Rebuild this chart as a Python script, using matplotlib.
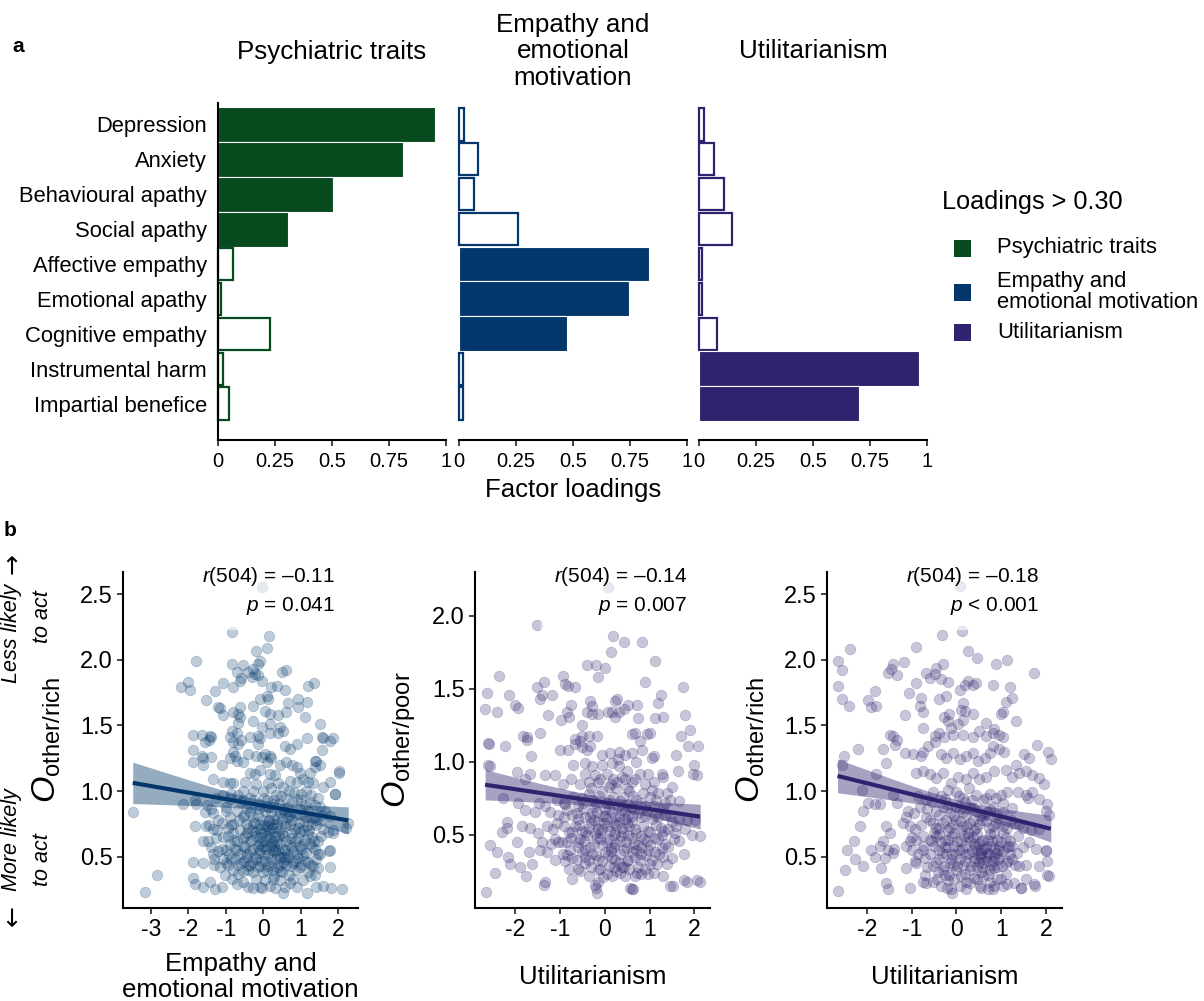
import numpy as np
import matplotlib
matplotlib.use('Agg')
import matplotlib.pyplot as plt
from matplotlib.patches import Rectangle

# ---------------- data: panel a (factor loadings) ----------------
measures = ['Depression', 'Anxiety', 'Behavioural apathy', 'Social apathy',
            'Affective empathy', 'Emotional apathy', 'Cognitive empathy',
            'Instrumental harm', 'Impartial benefice']
factor_titles = ['Psychiatric traits', 'Empathy and\nemotional\nmotivation', 'Utilitarianism']
legend_title = 'Loadings > 0.30'
legend_labels = ['Psychiatric traits', 'Empathy and\nemotional motivation', 'Utilitarianism']
load_psych = [0.95, 0.81, 0.505, 0.305, 0.066, 0.012, 0.228, 0.02, 0.05]
load_empathy = [0.024, 0.083, 0.067, 0.26, 0.833, 0.746, 0.475, 0.016, 0.016]
load_util = [0.022, 0.067, 0.111, 0.146, 0.012, 0.012, 0.078, 0.963, 0.70]
loading_threshold = 0.30
loading_ticks = [0, 0.25, 0.5, 0.75, 1]
loading_ticklabels = ['0', '0.25', '0.5', '0.75', '1']

# ---------------- data: panel b (scatter points, x = factor score, y = O) ----------------
pts_empathy_rich = [
    (-0.04,2.55),(-0.82,2.21),(0.16,2.18),(-0.2,2.07),(0.11,2.09),(-1.78,1.99),(-0.84,1.97),(-0.53,1.96),(-0.09,1.99),(-0.13,1.97),
    (-0.27,1.93),(-0.22,1.89),(-0.71,1.91),(-0.58,1.86),(-0.4,1.91),(-0.31,1.87),(-0.13,1.88),(-0.02,1.84),(0.49,1.91),(0.62,1.92),
    (-2.0,1.83),(-2.18,1.79),(-1.96,1.77),(-1.07,1.82),(-0.8,1.79),(-0.62,1.84),(0.22,1.79),(0.36,1.80),(0.58,1.77),(1.2,1.80),
    (1.36,1.82),(-1.29,1.76),(0.09,1.72),(0.13,1.70),(-0.09,1.70),(-1.53,1.69),(-1.2,1.64),(-1.16,1.63),(-0.62,1.64),(-0.67,1.59),
    (-0.62,1.56),(-1.07,1.58),(-0.8,1.60),(-0.27,1.65),(0.04,1.61),(0.18,1.59),(0.4,1.58),(0.44,1.49),(0.67,1.67),(0.62,1.60),
    (0.93,1.70),(0.92,1.64),(1.18,1.68),(1.11,1.56),(1.51,1.51),(-0.67,1.52),(-0.27,1.53),(-0.04,1.49),(0.18,1.51),(0.53,1.46),
    (-1.87,1.43),(-1.64,1.43),(-1.42,1.42),(-1.38,1.41),(-0.84,1.46),(-0.89,1.41),(-0.71,1.44),(-0.36,1.41),(-0.13,1.42),(-0.09,1.40),
    (0.18,1.44),(0.4,1.44),(1.16,1.40),(1.56,1.41),(1.87,1.40),
    (-1.56,1.37),(-1.44,1.39),(-0.8,1.37),(-0.67,1.36),(-0.58,1.39),(-0.13,1.36),(-1.87,1.31),(-1.64,1.27),(-1.6,1.25),(-1.4,1.26),
    (-1.87,1.22),(-1.6,1.20),(-1.11,1.20),(-0.8,1.30),(-0.76,1.27),(-0.71,1.23),(-0.89,1.25),(-0.53,1.22),(-0.4,1.28),(-0.18,1.27),
    (-0.04,1.26),(0.04,1.28),(0.18,1.27),(0.09,1.22),(0.22,1.25),(0.58,1.34),(0.71,1.32),(0.89,1.36),(0.62,1.22),(0.76,1.20),
    (0.89,1.18),(0.44,1.20),(1.38,1.23),(1.51,1.20),(2.03,1.14),(-0.36,1.14),(-0.22,1.13),(-0.09,1.16),(0.18,1.13),(0.31,1.12),
    (0.98,1.14),(1.24,1.14),(-1.33,1.09),(-1.07,1.07),(-0.89,1.06),(-0.8,1.06),(-0.49,1.07),(-0.27,1.00),(0.0,1.00),(0.13,1.06),
    (0.4,1.06),(0.53,1.03),(0.71,1.08),(0.89,1.07),(1.07,1.09),(1.2,1.07),(1.33,1.06),(1.6,1.03),(1.78,1.07),(1.91,0.98),
    (-2.13,0.90),(-1.82,0.93),(-1.78,0.90),(-1.51,0.89),(-1.56,0.84),(-1.33,0.83),(-1.07,0.97),(-0.89,0.94),(-0.67,0.97),(-0.53,0.93),
    (-3.48,0.84),(2.27,0.76),(-1.82,0.73),(-1.53,0.73),(-1.33,0.71),(-1.2,0.78),(-1.24,0.70),(-0.98,0.85),(-0.89,0.80),(-0.8,0.75),
    (-0.44,0.87),(-0.36,0.84),(-0.27,0.80),(-0.22,0.76),(-0.09,0.74),(0.0,0.78),(0.09,0.73),(0.18,0.70),(0.27,0.75),(0.36,0.79),
    (0.44,0.83),(0.53,0.86),(0.67,0.88),(0.76,0.92),(0.89,0.94),(1.02,0.93),(1.11,0.89),(1.24,0.92),(1.38,0.89),(1.51,0.88),
    (1.64,0.85),(1.78,0.81),
    (-0.62,0.70),(-0.49,0.66),(-0.36,0.62),(-0.22,0.69),(-0.09,0.65),(0.04,0.62),(0.18,0.64),(0.31,0.66),(0.44,0.70),(0.58,0.73),
    (0.71,0.74),(0.84,0.71),(0.98,0.69),(1.16,0.73),(1.29,0.75),(1.42,0.74),(1.6,0.71),(1.73,0.69),(1.87,0.70),
    (-1.07,0.65),(-0.89,0.60),(-0.76,0.56),(-0.62,0.52),(-0.49,0.57),(-0.36,0.54),(-0.22,0.50),(-0.09,0.55),(0.04,0.51),(0.18,0.57),
    (0.31,0.54),(0.44,0.50),(0.58,0.55),(0.71,0.59),(0.84,0.62),(0.98,0.58),(1.11,0.63),(1.24,0.60),(1.38,0.56),(1.51,0.52),(1.78,0.55),
    (-1.47,0.62),(-1.38,0.57),(-1.2,0.54),(-1.07,0.48),(-0.93,0.44),(-0.8,0.40),(-0.67,0.37),(-0.53,0.39),(-0.4,0.43),(-0.27,0.38),
    (-0.13,0.42),(0.0,0.38),(0.13,0.43),(0.27,0.40),(0.4,0.42),(0.53,0.46),(0.67,0.50),(0.8,0.45),(0.93,0.49),(1.07,0.51),
    (1.2,0.46),(1.33,0.43),(1.47,0.41),(1.78,0.42),
    (-1.87,0.46),(-1.6,0.45),(-2.84,0.36),(-3.16,0.23),(-1.87,0.34),(-1.82,0.29),(-1.6,0.27),(-1.42,0.31),(-1.29,0.25),(-1.11,0.27),
    (-1.02,0.36),(-0.84,0.33),(-0.71,0.29),(-0.53,0.31),(-0.4,0.27),(-0.27,0.26),(-0.09,0.27),(-0.04,0.26),(0.18,0.28),(0.31,0.26),
    (0.44,0.32),(0.58,0.27),(0.71,0.30),(0.89,0.27),(1.07,0.32),(1.24,0.35),(1.38,0.36),(1.42,0.27),(1.6,0.28),(1.82,0.26),
    (2.09,0.25),(1.16,0.22),(0.53,0.22),
    (1.76,0.54),(2.01,1.15),(1.92,0.98),(1.78,1.38),(1.6,1.40),(1.56,1.31),(1.38,1.18),(1.42,1.23),(1.85,0.68),(2.2,0.72),
    (-0.55,0.80),(-0.45,0.75),(-0.3,0.70),(-0.15,0.82),(-0.05,0.68),(0.05,0.85),(0.15,0.78),(0.25,0.62),(0.35,0.72),(0.45,0.60),
    (0.55,0.66),(0.65,0.80),(0.75,0.64),(0.85,0.82),(0.95,0.76),(1.05,0.70),(1.15,0.80),(-0.6,0.45),(-0.45,0.50),(-0.3,0.46),
    (-0.15,0.58),(-0.05,0.47),(0.08,0.56),(0.2,0.48),(0.3,0.35),(0.4,0.55),(0.5,0.38),(0.6,0.44),(0.7,0.36),(0.8,0.54),
    (0.9,0.40),(1.0,0.44),(-0.7,0.62),(-0.8,0.68),(-0.95,0.72),(-1.0,0.55),(-1.15,0.42),(-0.75,0.48),(0.1,0.93),(0.25,0.90),
    (-0.1,0.90),(-0.35,0.95),(0.35,0.97),(0.6,0.95),(0.2,1.02),(-0.2,1.05),(0.05,0.32),(-0.2,0.33),(0.25,0.33),(0.8,0.33),
    (1.2,0.38),(1.3,0.65),(1.45,0.62),(1.35,0.80),(-1.3,0.48),(-1.6,0.62),(-0.55,1.0),(0.7,1.0),(1.0,0.98),(1.15,1.0),
    (-0.6,0.92),(-0.25,0.93),(0.02,0.95),(0.3,0.93),(0.48,0.96),(0.82,0.99),(1.28,0.97),(1.45,0.95),(-0.85,0.98),(-1.25,0.95),
    (-0.7,0.85),(-0.5,0.82),(-0.32,0.88),(-0.12,0.86),(0.12,0.88),(0.22,0.84),(0.42,0.90),(0.58,0.84),(0.72,0.82),(0.98,0.86),
    (1.2,0.85),(1.55,0.82),(-1.0,0.88),(-1.4,0.86),
    (-0.85,0.74),(-0.65,0.78),(-0.4,0.72),(-0.28,0.76),(-0.12,0.71),(0.02,0.74),(0.13,0.77),(0.24,0.72),(0.38,0.75),(0.5,0.79),
    (0.62,0.76),(0.78,0.78),(0.92,0.72),(1.08,0.77),(1.22,0.70),(1.4,0.78),(-1.1,0.76),(-1.45,0.74),(0.3,0.79),(0.06,0.70),
    (-0.95,0.66),(-0.78,0.63),(-0.55,0.64),(-0.42,0.68),(-0.3,0.63),(-0.18,0.66),(-0.02,0.62),(0.1,0.66),(0.22,0.60),(0.35,0.63),
    (0.5,0.68),(0.62,0.62),(0.78,0.68),(0.92,0.64),(1.05,0.60),(1.2,0.67),(1.35,0.62),(1.55,0.66),(-1.25,0.64),(0.15,0.69),
    (-0.08,0.60),(0.42,0.66),
    (-1.1,0.56),(-0.9,0.52),(-0.7,0.55),(-0.55,0.58),(-0.42,0.52),(-0.28,0.56),(-0.12,0.53),(0.0,0.58),(0.12,0.52),(0.25,0.55),
    (0.38,0.51),(0.5,0.56),(0.64,0.52),(0.76,0.57),(0.9,0.52),(1.02,0.56),(1.15,0.53),(1.3,0.57),(1.45,0.52),(-1.35,0.52),
    (0.3,0.58),(0.56,0.50),
    (-1.0,0.45),(-0.85,0.48),(-0.68,0.44),(-0.5,0.47),(-0.35,0.44),(-0.2,0.48),(-0.08,0.43),(0.06,0.47),(0.2,0.44),(0.34,0.48),
    (0.46,0.44),(0.6,0.48),(0.74,0.43),(0.86,0.47),(0.98,0.42),(1.12,0.47),(1.28,0.44),(1.4,0.48),(-1.3,0.44),(0.1,0.40),
    (0.45,0.39),(-0.4,0.40),
]

pts_util_poor = [
    (0.08,2.20),(-1.52,1.94),(0.19,1.86),(0.42,1.82),(0.83,1.82),(0.14,1.75),(1.12,1.69),(-0.4,1.66),(-0.2,1.66),(0.01,1.64),
    (-0.16,1.58),(-2.37,1.59),(-0.92,1.59),(-0.88,1.53),(-0.81,1.52),(-0.66,1.51),(-1.35,1.55),(-1.52,1.51),(0.89,1.55),(1.74,1.51),
    (-2.63,1.47),(-2.13,1.46),(-2.67,1.36),(-2.41,1.34),(-1.41,1.46),(-1.44,1.43),(-1.18,1.46),(-2.0,1.39),(-1.93,1.37),(-1.26,1.32),
    (-0.75,1.39),(-0.85,1.34),(-0.97,1.29),(-0.8,1.31),(-0.33,1.42),(-0.29,1.38),(-0.4,1.34),(-0.28,1.33),(-0.14,1.33),(0.27,1.43),
    (0.23,1.42),(0.08,1.34),(0.16,1.34),(0.23,1.31),(0.31,1.34),(0.53,1.39),(0.71,1.39),(0.42,1.36),(0.75,1.30),(1.2,1.40),
    (1.26,1.46),(1.12,1.30),(1.31,1.31),(-0.5,1.25),(-1.82,1.18),(-1.73,1.17),(-1.44,1.20),(-0.66,1.16),(-0.51,1.18),(-0.36,1.18),
    (-0.18,1.18),(0.6,1.19),(0.68,1.20),(0.94,1.19),(1.01,1.20),(-2.6,1.13),
    (-2.58,1.12),(-2.22,1.11),(-1.74,1.15),(-1.0,1.08),(-0.83,1.08),(-0.66,1.12),(-0.55,1.14),(-0.51,1.10),(-0.4,1.08),(-0.33,1.11),
    (0.12,1.06),(0.31,1.07),(0.45,1.05),(0.6,1.06),(0.79,1.14),(0.83,1.08),(1.05,1.03),(1.09,1.04),(1.87,1.11),(2.09,1.11),
    (-1.64,1.04),(-2.6,0.98),(-2.55,0.97),(-1.96,0.93),(-1.79,0.88),(-1.67,0.92),(-1.33,0.91),(-1.12,0.91),(-0.92,0.85),(-0.44,0.99),
    (-0.29,0.97),(-0.44,0.92),(-0.36,0.86),(-0.22,0.91),(-0.07,0.98),(0.04,0.92),(0.16,0.99),(0.19,0.88),(0.31,0.97),(0.38,0.90),
    (0.49,0.94),(0.6,0.86),(0.79,0.92),(0.97,0.92),(1.27,0.92),(1.31,0.90),(1.63,0.94),(1.98,0.92),(2.05,0.91),(1.5,0.83),
    (1.06,0.81),(1.2,0.79),(1.46,0.74),(1.65,0.73),(1.38,0.79),(-2.26,0.75),(-1.93,0.72),(-1.79,0.67),(-1.55,0.66),(-1.47,0.72),
    (-1.33,0.70),(-1.22,0.66),(-1.07,0.74),(-0.88,0.71),(-2.19,0.59),(-2.17,0.55),(-1.85,0.56),(-1.67,0.55),(-1.48,0.51),(-1.29,0.56),
    (-1.07,0.58),
    (-0.74,0.64),(-0.59,0.61),(-0.44,0.62),(-0.29,0.65),(-0.14,0.59),(0.01,0.63),(0.16,0.66),(0.31,0.63),(0.45,0.66),(0.6,0.63),
    (0.75,0.65),(0.9,0.63),(1.05,0.61),(1.2,0.62),(1.35,0.64),(1.5,0.59),(1.65,0.60),(1.83,0.60),(2.02,0.60),(2.13,0.49),
    (-0.66,0.56),(-0.51,0.53),(-0.36,0.55),(-0.22,0.51),(-0.07,0.54),(0.08,0.56),(0.23,0.51),(0.38,0.55),(0.52,0.50),(0.67,0.54),
    (0.82,0.49),(0.97,0.53),(1.12,0.48),(1.27,0.50),(1.42,0.54),(1.57,0.51),(1.79,0.54),(1.94,0.50),
    (-2.56,0.43),(-2.15,0.35),(-2.11,0.30),(-1.7,0.38),(-1.63,0.30),(-1.44,0.40),(-1.41,0.45),(-1.29,0.38),(-1.11,0.47),(-1.04,0.45),
    (-0.93,0.37),(-0.78,0.40),(-0.74,0.34),
    (-0.59,0.45),(-0.44,0.40),(-0.29,0.37),(-0.14,0.33),(0.01,0.38),(0.16,0.34),(0.31,0.31),(0.42,0.28),(0.53,0.33),(0.67,0.35),
    (0.82,0.37),(0.97,0.40),(1.12,0.38),(1.27,0.41),(1.42,0.42),(1.65,0.46),(1.76,0.37),
    (-1.33,0.18),(-0.89,0.32),(-0.74,0.20),(-0.59,0.27),(-0.44,0.31),(-0.22,0.16),(-0.14,0.18),(-0.03,0.21),(0.16,0.22),(0.38,0.28),
    (0.57,0.14),(0.68,0.22),(0.82,0.23),(0.97,0.23),(1.16,0.30),(1.38,0.30),(1.46,0.15),(1.76,0.19),(2.05,0.19),(-2.66,0.11),
    (-0.18,0.10),(0.6,0.13),(-1.35,0.155),(-0.2,0.14),(0.64,0.13),(1.52,0.15),(1.83,0.18),(2.13,0.18),
    (-0.5,0.75),(-0.35,0.78),(-0.2,0.72),(-0.05,0.80),(0.1,0.74),(0.25,0.82),(0.4,0.76),(0.55,0.80),(0.7,0.74),(0.85,0.79),
    (-0.55,0.47),(-0.4,0.50),(-0.25,0.44),(-0.1,0.47),(0.05,0.45),(0.2,0.42),(0.35,0.46),(0.5,0.41),(0.65,0.44),(0.8,0.42),
    (0.95,0.46),(-0.3,0.28),(-0.1,0.27),(0.1,0.29),(0.25,0.25),(0.45,0.22),(0.75,0.28),(-0.6,0.70),(0.0,0.68),(0.3,0.70),
    (0.6,0.69),(-0.45,0.35),(0.2,0.58),(0.5,0.58),(-0.25,0.60),(0.9,0.70),(1.1,0.70),(-0.8,0.52),(-0.9,0.62),(1.25,0.55),
    (0.15,0.85),(-0.15,0.86),(0.45,0.88),(0.7,1.0),(0.3,1.02),(-0.05,1.05),(-0.7,0.98),(-0.85,0.45),(1.3,0.35),(1.0,0.30),
    (-0.55,0.85),(-0.3,0.82),(-0.1,0.88),(0.1,0.83),(0.28,0.86),(0.5,0.82),(0.68,0.88),(0.9,0.85),(1.1,0.86),(-0.75,0.88),
    (-0.7,0.76),(-0.48,0.72),(-0.28,0.74),(-0.12,0.77),(0.04,0.72),(0.18,0.76),(0.34,0.73),(0.5,0.71),(0.64,0.77),(0.8,0.72),
    (1.0,0.76),(1.15,0.74),(-0.9,0.72),(1.35,0.72),
    (-0.85,0.67),(-0.62,0.65),(-0.48,0.68),(-0.32,0.62),(-0.18,0.66),(-0.04,0.63),(0.1,0.68),(0.24,0.62),(0.38,0.67),(0.52,0.63),
    (0.66,0.68),(0.8,0.62),(0.95,0.67),(1.12,0.64),(1.3,0.68),(1.45,0.63),(-1.05,0.64),(0.06,0.61),(0.45,0.61),(-0.25,0.69),
    (-0.9,0.56),(-0.72,0.52),(-0.58,0.57),(-0.44,0.52),(-0.3,0.58),(-0.16,0.54),(-0.02,0.58),(0.12,0.53),(0.26,0.57),(0.4,0.52),
    (0.55,0.56),(0.7,0.51),(0.85,0.56),(1.0,0.52),(1.15,0.57),(1.32,0.53),(1.6,0.56),(-1.15,0.54),(0.2,0.50),(0.62,0.59),
    (-0.1,0.51),(0.33,0.59),
    (-0.95,0.45),(-0.75,0.48),(-0.6,0.42),(-0.46,0.46),(-0.32,0.42),(-0.18,0.48),(-0.05,0.43),(0.09,0.47),(0.22,0.44),(0.36,0.49),
    (0.48,0.45),(0.6,0.48),(0.74,0.43),(0.88,0.47),(1.02,0.43),(1.18,0.47),(1.35,0.44),(1.55,0.47),(-1.2,0.44),(0.14,0.41),
    (0.42,0.40),(0.7,0.40),
    (-0.85,0.36),(-0.62,0.33),(-0.5,0.38),(-0.36,0.33),(-0.2,0.36),(-0.06,0.32),(0.08,0.36),(0.22,0.33),(0.34,0.37),(0.5,0.32),
    (0.62,0.38),(0.78,0.33),(0.92,0.36),(1.06,0.33),(1.22,0.37),(1.5,0.34),(-1.1,0.33),(0.15,0.39),
    (-0.55,0.25),(-0.35,0.22),(-0.15,0.26),(0.05,0.23),(0.2,0.28),(0.35,0.24),(0.55,0.27),(0.72,0.24),(0.9,0.27),(1.1,0.24),
    (-0.8,0.27),(1.3,0.22),
    (-2.4,0.38),(-1.9,0.28),(-2.3,0.52),(-1.95,0.45),(-1.75,0.22),(-2.45,0.24),
    (1.6,1.05),(1.9,1.22),(2.0,0.98),(1.7,1.18),(1.8,1.32),
]

pts_util_rich = [
    (0.08,2.56),(0.13,2.22),(-0.33,2.19),(-2.37,2.08),(-0.91,2.10),(0.25,2.07),(0.46,2.01),(-2.64,1.99),(-2.57,1.92),(0.88,1.97),
    (1.13,2.0),(1.74,1.90),(-1.42,1.97),(-1.18,1.98),(-1.46,1.93),(-1.53,1.90),(-1.34,1.88),(-0.3,1.97),(-0.45,1.94),(-0.68,1.90),
    (-0.49,1.89),(-0.6,1.86),(-0.34,1.85),(-0.9,1.82),(-2.66,1.80),(-0.19,1.83),(0.07,1.77),(0.18,1.81),(0.25,1.84),(0.36,1.81),
    (0.44,1.82),(0.81,1.81),(1.2,1.79),(-1.83,1.76),(-1.06,1.75),(-2.57,1.70),(-2.4,1.65),(-1.97,1.69),(-1.9,1.64),(-1.79,1.65),
    (-0.79,1.71),(-0.82,1.65),(-0.75,1.60),(-0.38,1.70),(-0.23,1.72),(0.14,1.67),(0.1,1.62),(0.18,1.61),(0.36,1.59),(1.11,1.68),
    (1.25,1.71),(0.99,1.59),(1.05,1.60),(-1.16,1.58),(-0.16,1.59),(-0.19,1.53),(-0.27,1.56),(0.03,1.51),(0.14,1.54),(-0.75,1.48),
    (-0.38,1.44),(0.66,1.52),(0.85,1.47),(0.81,1.44),(1.33,1.53),(-0.12,1.48),(-0.27,1.41),(-0.08,1.43),(0.14,1.43),(0.51,1.46),
    (-1.49,1.43),(-1.42,1.42),(-0.49,1.42),(0.36,1.41),(0.66,1.42),(0.96,1.43),(1.03,1.41),
    (-2.2,1.32),(-1.64,1.32),(-1.38,1.35),(-1.34,1.39),(-1.16,1.29),(-0.97,1.28),(-0.79,1.27),(-0.75,1.30),(-0.64,1.34),(-0.49,1.37),
    (-0.34,1.28),(-0.23,1.25),(-0.08,1.29),(0.07,1.24),(0.22,1.27),(0.36,1.29),(0.48,1.23),(0.63,1.25),(0.74,1.29),(0.81,1.34),
    (0.96,1.32),(1.07,1.30),(-2.52,1.27),(-2.57,1.20),(-1.57,1.21),(-1.79,1.13),(1.33,1.20),(1.63,1.25),(2.11,1.24),(1.85,1.10),
    (1.4,1.14),(1.55,1.15),(-0.9,1.14),(-0.75,1.15),(-0.6,1.13),(-0.45,1.10),(-0.3,1.14),(-0.12,1.06),(0.03,1.11),(0.22,1.09),
    (0.36,1.14),(0.51,1.09),(0.66,1.11),(0.85,1.15),(1.11,1.16),(1.25,1.11),
    (-2.12,1.01),(-1.97,0.91),(-1.83,0.90),(-1.71,0.90),(-2.09,0.85),(-1.42,0.97),(-1.34,0.91),(-1.08,0.85),(-0.82,0.88),
    (-0.68,0.94),(-0.53,0.99),(-0.34,0.96),(-0.19,1.01),(-0.01,0.99),(0.14,0.95),(0.29,1.02),(0.44,0.97),(0.59,0.93),(0.74,0.98),
    (0.88,0.95),(1.03,0.91),(1.14,0.99),(1.37,0.99),(1.55,0.97),(1.7,0.99),(1.85,0.94),(2.03,0.90),(2.0,0.85),
    (-2.16,0.73),(-1.57,0.73),(-1.49,0.68),(-1.05,0.73),(-0.93,0.71),(-1.12,0.80),(-0.68,0.80),(-0.53,0.76),(-0.38,0.72),(-0.23,0.78),
    (-0.08,0.75),(0.07,0.77),(0.22,0.73),(0.36,0.78),(0.51,0.75),(0.66,0.77),(0.81,0.73),(0.96,0.76),(1.14,0.72),(1.29,0.76),
    (1.48,0.72),(1.66,0.70),(1.85,0.71),(2.07,0.82),
    (-1.72,0.58),(-1.53,0.55),(-1.42,0.53),(-1.12,0.58),(-0.9,0.63),(-0.75,0.58),(-0.6,0.63),(-0.45,0.66),(-0.34,0.61),(-0.19,0.63),
    (-0.05,0.58),(0.1,0.62),(0.25,0.65),(0.4,0.60),(0.55,0.55),(0.7,0.63),(0.85,0.56),(1.0,0.61),(1.14,0.57),(1.25,0.58),
    (1.48,0.57),(1.63,0.61),(1.78,0.56),(2.0,0.55),
    (-2.27,0.48),(-2.09,0.43),(-1.83,0.50),(-1.68,0.41),(-1.6,0.49),(-1.4,0.56),(-1.12,0.41),(-0.93,0.47),(-0.71,0.49),(-0.53,0.43),
    (-0.38,0.48),(-0.23,0.52),(-0.08,0.44),(0.07,0.48),(0.22,0.52),(0.4,0.47),(0.55,0.50),(0.7,0.53),(0.81,0.47),(0.96,0.50),
    (1.11,0.45),(1.25,0.48),(1.4,0.43),(1.55,0.44),(1.85,0.43),(2.03,0.47),
    (-2.64,0.24),(-1.57,0.30),(-1.53,0.25),(-1.05,0.26),(-0.75,0.31),(-0.68,0.30),(-0.53,0.31),(-0.34,0.28),(-0.16,0.36),(-0.12,0.25),
    (0.07,0.28),(0.22,0.31),(0.4,0.34),(0.55,0.26),(0.7,0.25),(0.85,0.28),(1.0,0.33),(1.14,0.29),(1.29,0.30),(1.44,0.26),
    (1.55,0.33),(1.74,0.29),(2.03,0.36),
    (-0.44,0.33),(-0.22,0.26),(-0.09,0.22),(0.22,0.25),(0.52,0.28),(0.82,0.25),(1.03,0.28),(1.45,0.26),(1.76,0.28),(2.07,0.35),(2.01,0.54),
    (-0.45,0.85),(-0.3,0.88),(-0.15,0.83),(0.0,0.88),(0.15,0.84),(0.3,0.88),(0.45,0.85),(0.6,0.82),(0.75,0.86),(0.9,0.82),
    (-0.4,0.55),(-0.25,0.57),(-0.1,0.52),(0.05,0.55),(0.2,0.58),(0.35,0.54),(0.5,0.60),(0.65,0.57),(0.8,0.62),(0.95,0.55),
    (-0.3,0.40),(-0.15,0.45),(0.0,0.40),(0.15,0.44),(0.3,0.40),(0.45,0.42),(0.6,0.45),(0.75,0.40),(0.9,0.42),(0.6,0.35),
    (0.45,0.55),(0.65,0.50),(0.55,0.62),(-0.05,0.68),(0.1,0.70),(0.25,0.68),(0.4,0.70),(-0.2,0.70),(-0.5,0.68),(0.85,0.68),
    (1.1,0.65),(0.2,0.92),(-0.6,0.52),(-0.85,0.52),(-1.0,0.65),(1.2,0.52),(0.3,0.30),(-0.2,0.32),(0.1,0.35),(0.75,0.31),
    (-0.55,0.92),(-0.25,0.94),(0.05,0.96),(0.35,0.93),(0.65,0.95),(-0.85,0.96),(1.0,0.97),
    (-0.65,0.86),(-0.38,0.82),(-0.22,0.87),(-0.05,0.81),(0.08,0.86),(0.22,0.82),(0.38,0.87),(0.52,0.81),(0.68,0.84),(0.82,0.88),
    (1.05,0.84),(1.25,0.87),(-0.95,0.83),
    (-0.8,0.74),(-0.6,0.78),(-0.45,0.72),(-0.3,0.76),(-0.15,0.72),(0.0,0.78),(0.15,0.73),(0.3,0.76),(0.44,0.72),(0.58,0.78),
    (0.72,0.72),(0.88,0.76),(1.05,0.73),(1.22,0.78),(1.4,0.75),(-1.2,0.76),
    (-0.75,0.66),(-0.55,0.62),(-0.4,0.67),(-0.25,0.63),(-0.1,0.66),(0.02,0.62),(0.16,0.66),(0.3,0.62),(0.45,0.67),(0.6,0.63),
    (0.75,0.67),(0.9,0.63),(1.05,0.68),(1.2,0.62),(1.38,0.66),(-1.05,0.62),(0.38,0.65),
    (-0.75,0.55),(-0.5,0.58),(-0.32,0.53),(-0.18,0.57),(-0.02,0.52),(0.12,0.56),(0.28,0.52),(0.42,0.58),(0.55,0.53),(0.62,0.56),
    (0.72,0.52),(0.78,0.58),(0.88,0.53),(0.95,0.58),(1.05,0.54),(1.18,0.58),(1.35,0.53),(-1.0,0.55),(0.5,0.51),(0.85,0.50),
    (-0.9,0.45),(-0.65,0.42),(-0.45,0.46),(-0.28,0.43),(-0.12,0.48),(0.02,0.43),(0.18,0.47),(0.32,0.43),(0.5,0.46),(0.58,0.42),
    (0.68,0.47),(0.78,0.44),(0.92,0.48),(1.02,0.43),(1.15,0.47),(1.3,0.44),(0.42,0.49),(0.85,0.41),
    (-0.7,0.36),(-0.42,0.38),(-0.05,0.33),(0.2,0.37),(0.45,0.33),(0.7,0.36),(0.9,0.33),(1.1,0.37),(-0.25,0.36),(0.55,0.38),
    (-2.45,0.55),(-2.3,0.62),(-1.9,0.55),(-1.65,0.62),(-2.5,0.40),
    (1.7,1.12),(1.95,1.05),(2.05,1.30),(1.6,0.95),(1.8,1.35),(1.5,1.28),
]

scatter_xlabels = ['Empathy and\nemotional motivation', 'Utilitarianism', 'Utilitarianism']
scatter_ylabels = [r'$O_{\mathrm{other/rich}}$', r'$O_{\mathrm{other/poor}}$', r'$O_{\mathrm{other/rich}}$']
stats_r = ['–0.11', '–0.14', '–0.18']
stats_p = ['= 0.041', '= 0.007', '< 0.001']
scatter_xticks = [[-3, -2, -1, 0, 1, 2], [-2, -1, 0, 1, 2], [-2, -1, 0, 1, 2]]
scatter_yticks = [[0.5, 1.0, 1.5, 2.0, 2.5], [0.5, 1.0, 1.5, 2.0], [0.5, 1.0, 1.5, 2.0, 2.5]]
scatter_xlims = [(-3.74, 2.53), (-2.895, 2.35), (-2.895, 2.36)]
scatter_ylims = [(0.109, 2.668), (0.0, 2.30), (0.109, 2.668)]

# ---------------- style ----------------
plt.rcParams['font.family'] = ['Liberation Sans', 'DejaVu Sans']
plt.rcParams['mathtext.fontset'] = 'custom'
plt.rcParams['mathtext.rm'] = 'Liberation Sans'
plt.rcParams['mathtext.it'] = 'Liberation Sans:italic'
plt.rcParams['mathtext.bf'] = 'Liberation Sans:bold'
plt.rcParams['axes.unicode_minus'] = False

GREEN, BLUE, PURPLE = '#064a1d', '#03376b', '#30226e'
factor_colors = [GREEN, BLUE, PURPLE]
scatter_colors = [BLUE, PURPLE, PURPLE]

W, H = 1204, 1001
fig = plt.figure(figsize=(W / 100, H / 100), dpi=100)


def px_rect(l, t, r, b):
    return [l / W, 1 - b / H, (r - l) / W, (b - t) / H]


def fx(x):
    return x / W


def fy(y):
    return 1 - y / H


# ---------------- panel a ----------------
ypos = np.arange(len(measures))[::-1] + 1
lefts = [218, 459, 699]
loadings = [load_psych, load_empathy, load_util]
for i, (vals, col) in enumerate(zip(loadings, factor_colors)):
    ax = fig.add_axes(px_rect(lefts[i], 103, lefts[i] + 228, 440))
    for yv, v in zip(ypos, vals):
        if v > loading_threshold:
            ax.barh(yv, v, height=1.0, color=col, edgecolor='white', linewidth=0.8, clip_on=False)
        else:
            ax.barh(yv, v, height=0.92, facecolor='white', edgecolor=col, linewidth=1.6, clip_on=False)
    ax.set_xlim(0, 1)
    ax.set_ylim(-0.045, 9.615)
    ax.set_xticks(loading_ticks)
    ax.set_xticklabels(loading_ticklabels)
    ax.tick_params(axis='x', length=4.5, width=1.2, labelsize=14.5, pad=4, color='#222222')
    for s in ['top', 'right']:
        ax.spines[s].set_visible(False)
    ax.spines['bottom'].set_linewidth(1.5)
    if i == 0:
        ax.set_yticks(ypos)
        ax.set_yticklabels(measures)
        ax.tick_params(axis='y', length=0, labelsize=15.8, pad=8)
        ax.spines['left'].set_linewidth(1.5)
    else:
        ax.spines['left'].set_visible(False)
        ax.set_yticks([])
    fig.text(fx(lefts[i] + 114), fy(51.5), factor_titles[i], ha='center', va='center',
             fontsize=18.7, linespacing=1.15)

fig.text(fx(573), fy(490), 'Factor loadings', ha='center', va='center', fontsize=18.5)

# legend (key squares + labels)
fig.text(fx(942), fy(202), legend_title, ha='left', va='center', fontsize=18.2)
legend_rows_y = [248, 292, 333]
for lab, col, yc in zip(legend_labels, factor_colors, legend_rows_y):
    fig.add_artist(Rectangle((fx(954), fy(yc + 8.5)), 17 / W, 17 / H,
                             transform=fig.transFigure, facecolor=col, edgecolor='none'))
    fig.text(fx(997), fy(yc), lab, ha='left', va='center', fontsize=15.8, linespacing=1.0)

fig.text(fx(12), fy(46), 'a', fontsize=15, fontweight='bold', va='center', ha='left')


# ---------------- panel b ----------------
def linear_fit_band(x, y):
    x = np.asarray(x, float)
    y = np.asarray(y, float)
    n = len(x)
    slope, intercept = np.polyfit(x, y, 1)
    xg = np.linspace(x.min(), x.max(), 100)
    yg = intercept + slope * xg
    resid = y - (intercept + slope * x)
    s = np.sqrt(np.sum(resid ** 2) / (n - 2))
    sxx = np.sum((x - x.mean()) ** 2)
    se = s * np.sqrt(1.0 / n + (xg - x.mean()) ** 2 / sxx)
    return xg, yg, yg - 1.97 * se, yg + 1.97 * se


panels = [pts_empathy_rich, pts_util_poor, pts_util_rich]
sc_lefts = [123, 475, 827]
for i, pts in enumerate(panels):
    arr = np.array(pts)
    xs, ys = arr[:, 0], arr[:, 1]
    col = scatter_colors[i]
    L = sc_lefts[i]
    ax = fig.add_axes(px_rect(L, 572, L + 235, 908))
    ax.scatter(xs, ys, s=58, color=col, alpha=0.26, edgecolors=col, linewidths=0.5, zorder=2)
    xg, yg, lo, hi = linear_fit_band(xs, ys)
    ax.fill_between(xg, lo, hi, color=col, alpha=0.42, linewidth=0, zorder=3)
    ax.plot(xg, yg, color=col, lw=3.0, zorder=4, solid_capstyle='butt')
    ax.set_xlim(*scatter_xlims[i])
    ax.set_ylim(*scatter_ylims[i])
    ax.set_xticks(scatter_xticks[i])
    ax.set_xticklabels([str(t) for t in scatter_xticks[i]])
    ax.set_yticks(scatter_yticks[i])
    ax.set_yticklabels(['%.1f' % t for t in scatter_yticks[i]])
    ax.tick_params(axis='both', length=4.5, width=1.2, pad=3, color='#222222')
    ax.tick_params(axis='x', labelsize=16.5)
    ax.tick_params(axis='y', labelsize=17)
    for s in ['top', 'right']:
        ax.spines[s].set_visible(False)
    for s in ['left', 'bottom']:
        ax.spines[s].set_linewidth(1.5)
    fig.text(fx(L + 117.5), fy(977), scatter_xlabels[i], ha='center', va='center',
             fontsize=18.5, linespacing=1.12)
    fig.text(fx(L - 76), fy(740), scatter_ylabels[i], ha='center', va='center',
             rotation=90, fontsize=24.5)
    txt = r'$r$(504) = ' + stats_r[i] + '\n' + r'$p$ ' + stats_p[i]
    ax.text(fx(L + 212), fy(591), txt, transform=fig.transFigure, ha='right', va='center',
            multialignment='right', fontsize=15, linespacing=1.45, zorder=5,
            bbox=dict(boxstyle='square,pad=0.6', facecolor='white', edgecolor='none', alpha=0.6))

# side annotations for panel b
arrow_font = ['DejaVu Sans']
fig.text(fx(12), fy(916), '\u2190', rotation=90, ha='center', va='center', fontsize=18, family=arrow_font)
fig.text(fx(12), fy(840), 'More likely', rotation=90, ha='center', va='center', fontsize=15.5, style='italic')
fig.text(fx(12), fy(633), 'Less likely', rotation=90, ha='center', va='center', fontsize=15.5, style='italic')
fig.text(fx(12), fy(563), '\u2192', rotation=90, ha='center', va='center', fontsize=18, family=arrow_font)
fig.text(fx(43), fy(617), 'to act', rotation=90, ha='center', va='center', fontsize=15.5, style='italic')
fig.text(fx(43), fy(860), 'to act', rotation=90, ha='center', va='center', fontsize=15.5, style='italic')

fig.text(fx(4), fy(531), 'b', fontsize=15, fontweight='bold', va='center', ha='left')

fig.savefig('out.png', dpi=100)
